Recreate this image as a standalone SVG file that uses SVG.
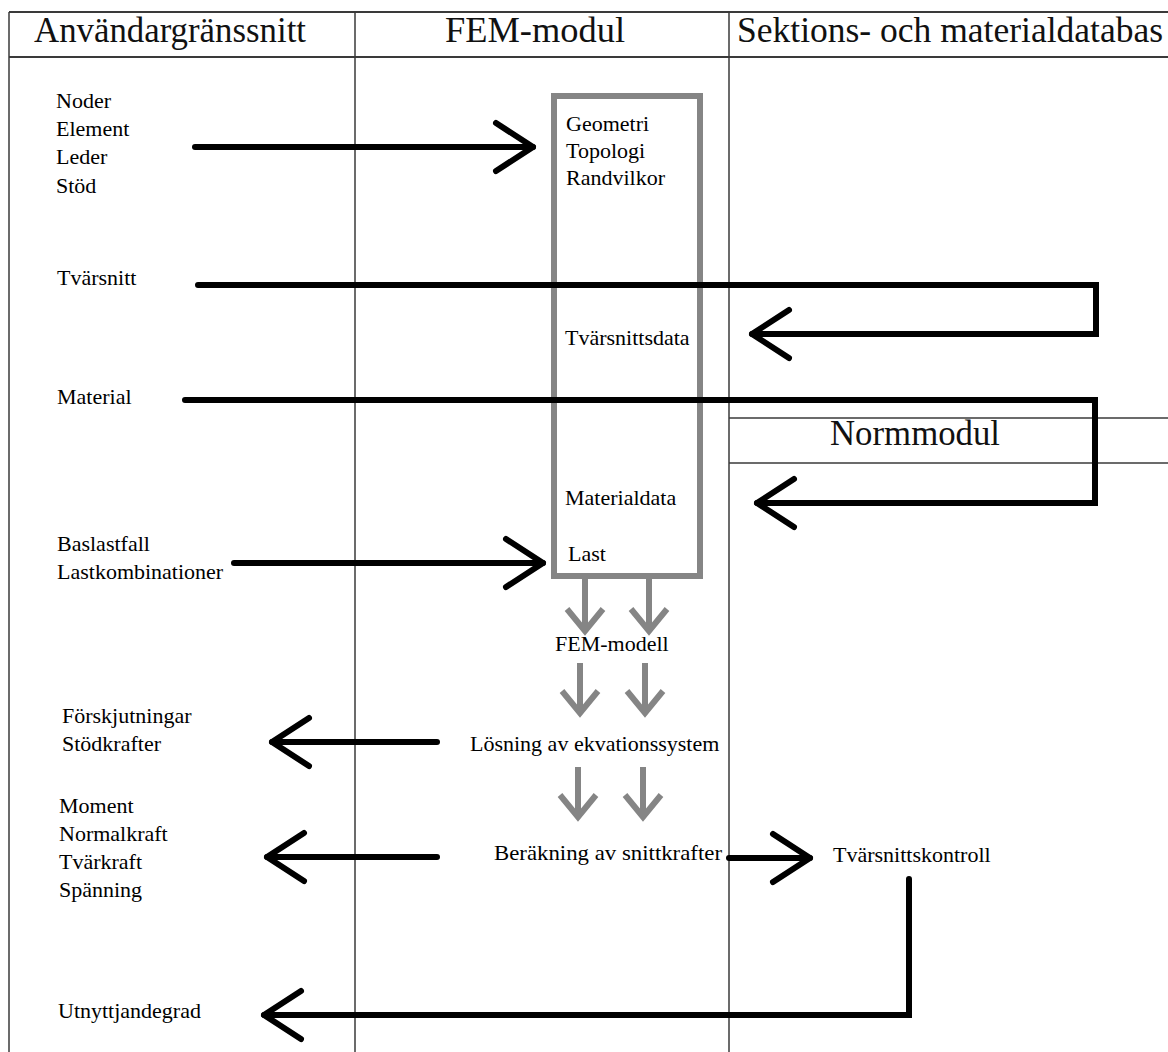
<svg xmlns="http://www.w3.org/2000/svg" width="1168" height="1052" viewBox="0 0 1168 1052">
<style>
.t{font-family:"Liberation Serif","Times New Roman",serif;font-size:22px;fill:#000}
.h{font-family:"Liberation Serif","Times New Roman",serif;font-size:35px;fill:#111}
.grid{stroke:#3a3a3a;stroke-width:1.5;fill:none}
.hl{stroke:#3a3a3a;stroke-width:2;fill:none}
.blk{fill:none;stroke:#000;stroke-width:6;stroke-linecap:round;stroke-linejoin:miter}
.gry{fill:none;stroke:#858585;stroke-width:6}
</style>
<defs>
<marker id="ah" markerUnits="userSpaceOnUse" viewBox="-50 -35 60 70" markerWidth="60" markerHeight="70" refX="0" refY="0" orient="auto" overflow="visible">
<path d="M-37,-24 L0,0 L-37,24" fill="none" stroke="#000" stroke-width="6" stroke-linecap="round" stroke-linejoin="round"/>
</marker>
<marker id="gh" markerUnits="userSpaceOnUse" viewBox="-30 -25 40 50" markerWidth="40" markerHeight="50" refX="0" refY="0" orient="auto" overflow="visible">
<path d="M-22,-18 L0,0 L-22,18" fill="none" stroke="#858585" stroke-width="6" stroke-linejoin="miter"/>
</marker>
</defs>
<rect width="1168" height="1052" fill="#fff"/>
<g id="table">
<line class="hl" x1="9" y1="12" x2="1168" y2="12"/>
<line class="hl" x1="9" y1="57" x2="1168" y2="57"/>
<line class="grid" x1="9" y1="12" x2="9" y2="1052"/>
<line class="grid" x1="355" y1="12" x2="355" y2="1052"/>
<line class="grid" x1="729" y1="12" x2="729" y2="1052"/>
<line class="grid" x1="729" y1="418" x2="1168" y2="418"/>
<line class="grid" x1="729" y1="463" x2="1168" y2="463"/>
</g>
<g id="headers">
<text class="h" x="34" y="42" textLength="272" lengthAdjust="spacingAndGlyphs">Användargränssnitt</text>
<text class="h" x="445" y="42" textLength="180" lengthAdjust="spacingAndGlyphs">FEM-modul</text>
<text class="h" x="737" y="42" textLength="426" lengthAdjust="spacingAndGlyphs">Sektions- och materialdatabas</text>
<text class="h" x="830" y="445" font-size="34" textLength="170" lengthAdjust="spacingAndGlyphs">Normmodul</text>
</g>
<g id="fem-box">
<rect x="554" y="96" width="146" height="480" fill="none" stroke="#858585" stroke-width="6"/>
</g>
<g id="connectors">
<path class="blk" d="M195,147 H533" marker-end="url(#ah)"/>
<path class="blk" d="M198,285 H1096 V334 H752" marker-end="url(#ah)"/>
<path class="blk" d="M185,400 H1095 V503 H757" marker-end="url(#ah)"/>
<path class="blk" d="M234,563 H543" marker-end="url(#ah)"/>
<path class="blk" d="M437,742 H272" marker-end="url(#ah)"/>
<path class="blk" d="M437,857 H267" marker-end="url(#ah)"/>
<path class="blk" d="M729,858 H810" marker-end="url(#ah)"/>
<path class="blk" d="M909,879 V1015 H264" marker-end="url(#ah)"/>
<path class="gry" d="M585,579 V631" marker-end="url(#gh)"/>
<path class="gry" d="M649,579 V631" marker-end="url(#gh)"/>
<path class="gry" d="M580,663 V713" marker-end="url(#gh)"/>
<path class="gry" d="M645,663 V713" marker-end="url(#gh)"/>
<path class="gry" d="M578,767 V817" marker-end="url(#gh)"/>
<path class="gry" d="M643,767 V817" marker-end="url(#gh)"/>
</g>
<g id="n-geometri">
<text class="t" x="56" y="108">Noder</text>
<text class="t" x="56" y="136">Element</text>
<text class="t" x="56" y="164">Leder</text>
<text class="t" x="56" y="193">Stöd</text>
</g>
<g id="n-fem-geometri">
<text class="t" x="566" y="131">Geometri</text>
<text class="t" x="566" y="158">Topologi</text>
<text class="t" x="566" y="185">Randvilkor</text>
</g>
<g id="n-tvarsnitt"><text class="t" x="57" y="285">Tvärsnitt</text></g>
<g id="n-tvarsnittsdata"><text class="t" x="565" y="345">Tvärsnittsdata</text></g>
<g id="n-material"><text class="t" x="57" y="404">Material</text></g>
<g id="n-materialdata"><text class="t" x="565" y="505">Materialdata</text></g>
<g id="n-last-in">
<text class="t" x="57" y="551">Baslastfall</text>
<text class="t" x="57" y="579">Lastkombinationer</text>
</g>
<g id="n-last"><text class="t" x="568" y="561">Last</text></g>
<g id="n-fem-modell"><text class="t" x="555" y="651">FEM-modell</text></g>
<g id="n-losning"><text class="t" x="470" y="751">Lösning av ekvationssystem</text></g>
<g id="n-berakning"><text class="t" x="494" y="860" textLength="228" lengthAdjust="spacingAndGlyphs">Beräkning av snittkrafter</text></g>
<g id="n-tvarsnittskontroll"><text class="t" x="833" y="862">Tvärsnittskontroll</text></g>
<g id="n-forskjutningar">
<text class="t" x="62" y="723">Förskjutningar</text>
<text class="t" x="62" y="751">Stödkrafter</text>
</g>
<g id="n-krafter">
<text class="t" x="59" y="813">Moment</text>
<text class="t" x="59" y="841">Normalkraft</text>
<text class="t" x="59" y="869">Tvärkraft</text>
<text class="t" x="59" y="897">Spänning</text>
</g>
<g id="n-utnyttjandegrad"><text class="t" x="58" y="1018">Utnyttjandegrad</text></g>
</svg>
